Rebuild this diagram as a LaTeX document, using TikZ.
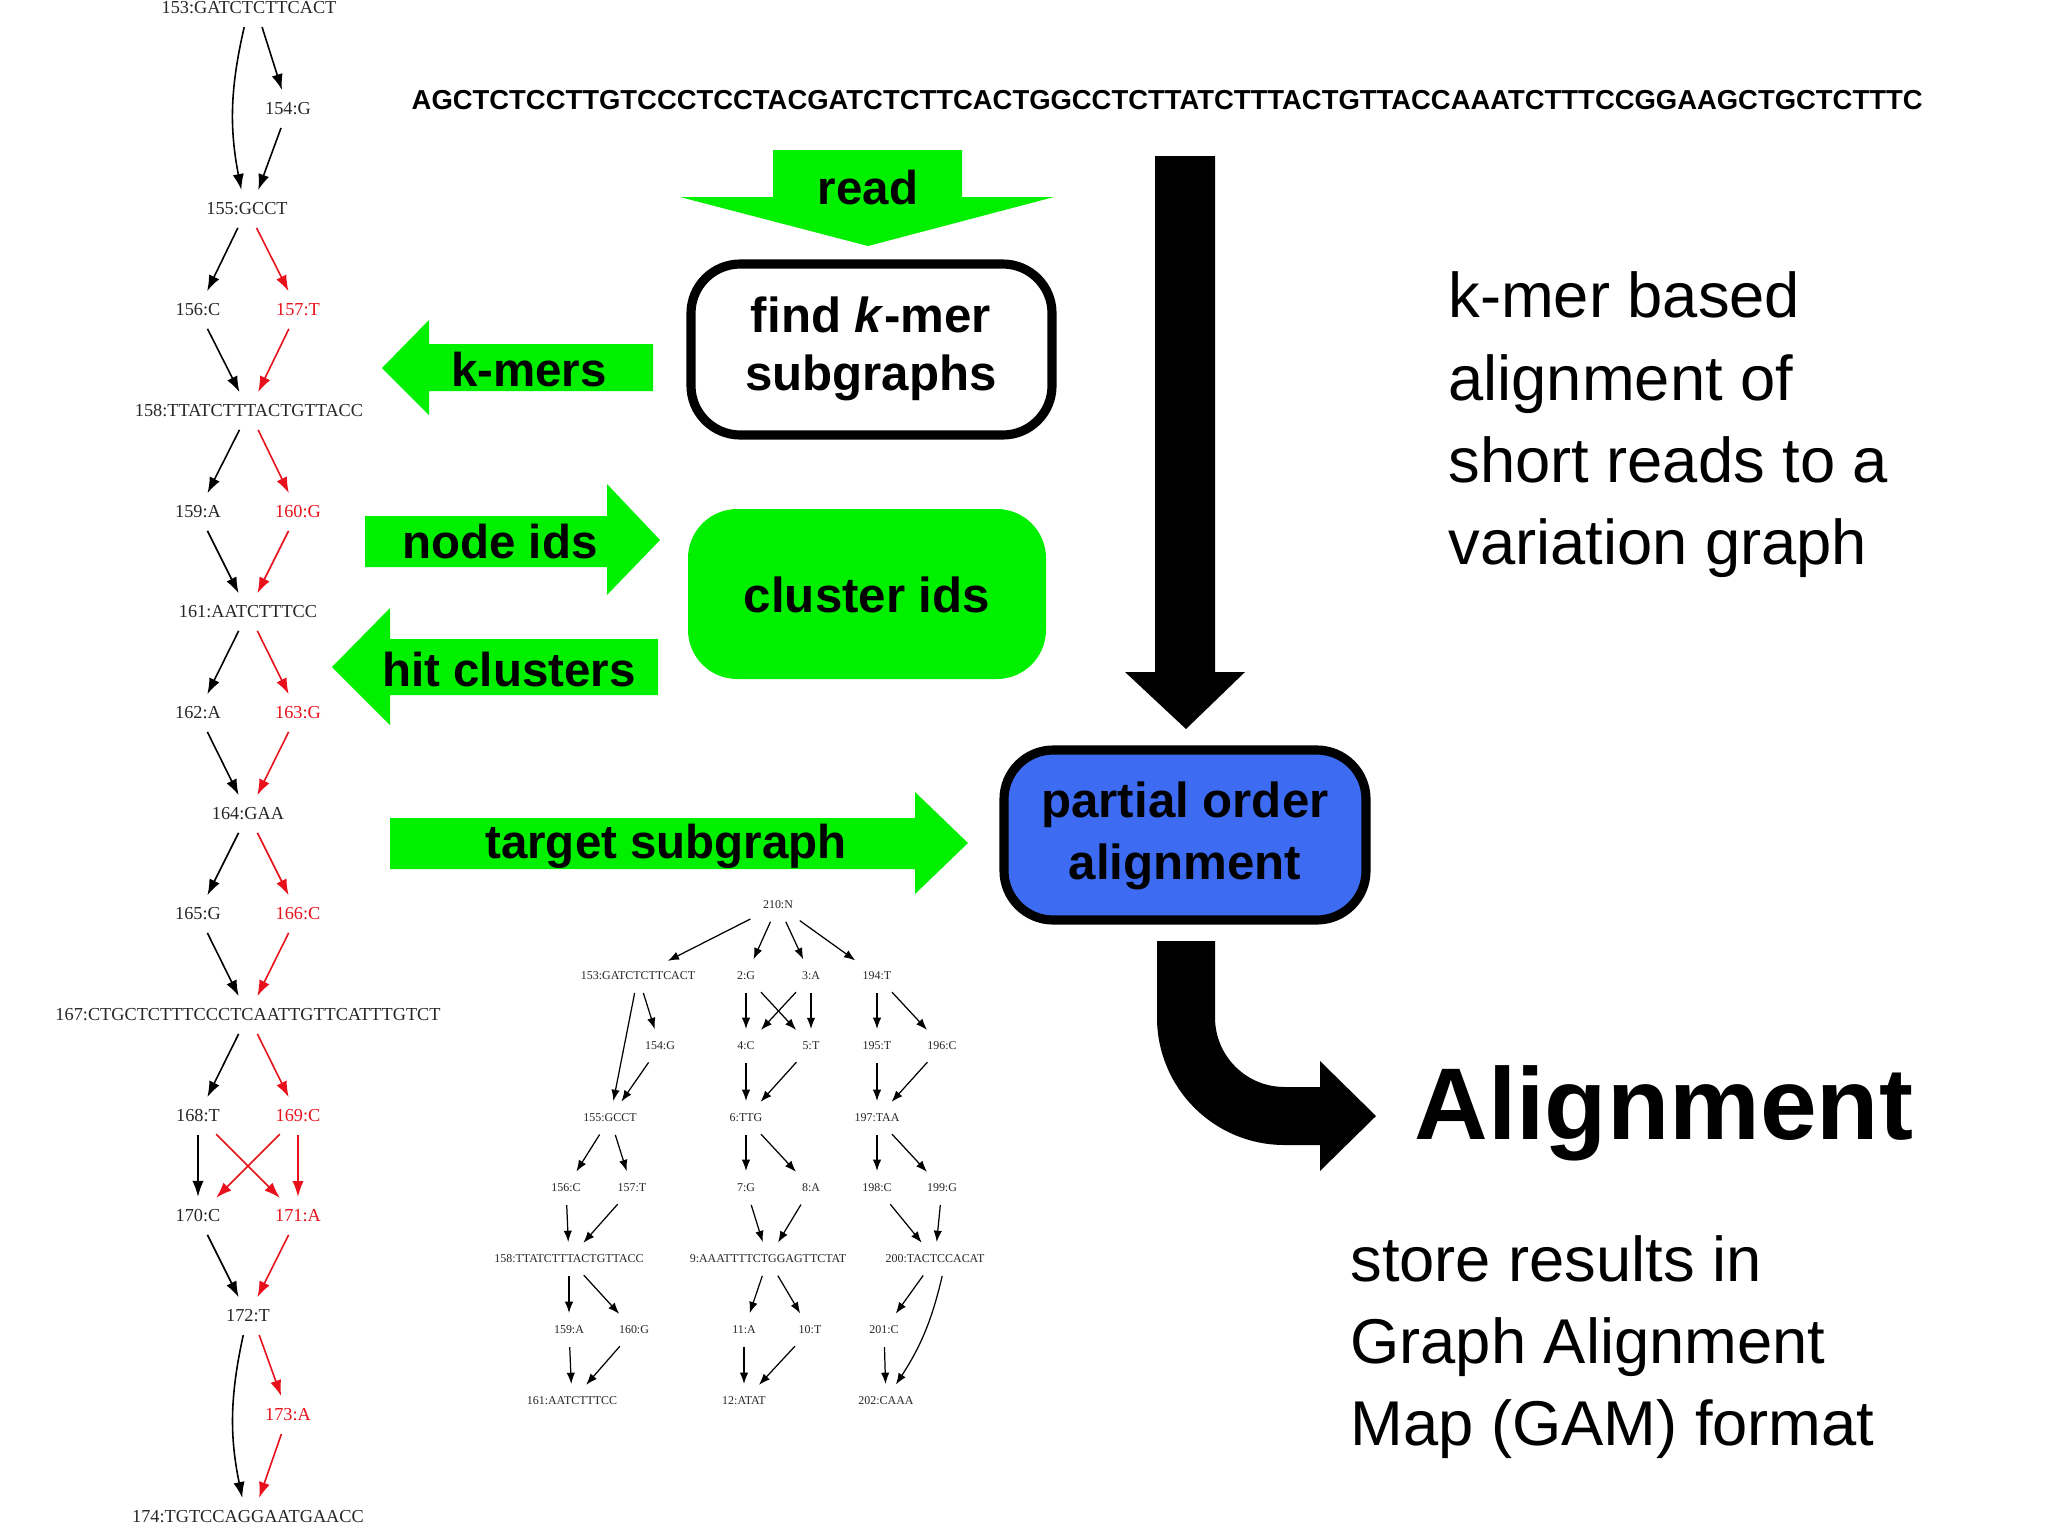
\documentclass[tikz,border=0pt]{standalone}
\usepackage{fontspec}
\setmainfont{Liberation Sans}
\newfontfamily\gfont{Liberation Serif}
\usetikzlibrary{arrows.meta,calc}
\definecolor{brgreen}{HTML}{00F000}
\definecolor{pblue}{HTML}{3D6BF2}
\definecolor{gred}{HTML}{E8101A}
\begin{document}
\begin{tikzpicture}[x=0.01cm,y=-0.01cm,
  L/.style={font=\gfont\fontsize{5.2}{6}\selectfont,inner sep=2.5pt,text=black!85},
  LR/.style={L,text=gred},
  B/.style={font=\gfont\fontsize{3.4}{4}\selectfont,inner sep=2.5pt,text=black!85},
  e/.style={-{Latex[length=4.5pt,width=3.2pt]},line width=0.45pt,shorten <=1pt,shorten >=1pt},
  er/.style={e,draw=gred},
  eb/.style={-{Latex[length=3.2pt,width=2.4pt]},line width=0.35pt,shorten <=1pt,shorten >=1pt},
  garrow/.style={fill=brgreen},
  glab/.style={font=\bfseries\fontsize{13.5}{15}\selectfont},
  big/.style={font=\fontsize{18}{23.4}\selectfont,align=left,anchor=west}]
\useasboundingbox[fill=white] (0,0) rectangle (2048,1536);

% ---------- left graph ----------
\node[L] (a153) at (249,8) {153:GATCTCTTCACT};
\node[L] (a154) at (288,109) {154:G};
\node[L] (a155) at (247,209) {155:GCCT};
\node[L] (a156) at (198,310) {156:C};
\node[LR] (a157) at (298,310) {157:T};
\node[L] (a158) at (249,411) {158:TTATCTTTACTGTTACC};
\node[L] (a159) at (198,512) {159:A};
\node[LR] (a160) at (298,512) {160:G};
\node[L] (a161) at (248,612) {161:AATCTTTCC};
\node[L] (a162) at (198,713) {162:A};
\node[LR] (a163) at (298,713) {163:G};
\node[L] (a164) at (248,814) {164:GAA};
\node[L] (a165) at (198,914) {165:G};
\node[LR] (a166) at (298,914) {166:C};
\node[L] (a167) at (248,1015) {167:CTGCTCTTTCCCTCAATTGTTCATTTGTCT};
\node[L] (a168) at (198,1116) {168:T};
\node[LR] (a169) at (298,1116) {169:C};
\node[L] (a170) at (198,1216) {170:C};
\node[LR] (a171) at (298,1216) {171:A};
\node[L] (a172) at (248,1316) {172:T};
\node[LR] (a173) at (288,1415) {173:A};
\node[L] (a174) at (248,1517) {174:TGTCCAGGAATGAACC};

\draw[e] ($(a153.south)+(12,0)$) -- (a154);
\draw[e] ($(a153.south)+(-4,0)$) to[bend right=12] ($(a155.north)+(-5,0)$);
\draw[e] (a154) -- ($(a155.north)+(10,0)$);
\draw[e] (a155) -- (a156);
\draw[er] (a155) -- (a157);
\draw[e] (a156) -- (a158);
\draw[er] (a157) -- (a158);
\draw[e] (a158) -- (a159);
\draw[er] (a158) -- (a160);
\draw[e] (a159) -- (a161);
\draw[er] (a160) -- (a161);
\draw[e] (a161) -- (a162);
\draw[er] (a161) -- (a163);
\draw[e] (a162) -- (a164);
\draw[er] (a163) -- (a164);
\draw[e] (a164) -- (a165);
\draw[er] (a164) -- (a166);
\draw[e] (a165) -- (a167);
\draw[er] (a166) -- (a167);
\draw[e] (a167) -- (a168);
\draw[er] (a167) -- (a169);
\draw[e] (a168) -- (a170);
\draw[er] (a168) -- (a171);
\draw[er] (a169) -- (a170);
\draw[er] (a169) -- (a171);
\draw[e] (a170) -- (a172);
\draw[er] (a171) -- (a172);
\draw[er] ($(a172.south)+(10,0)$) -- (a173);
\draw[er] (a173) -- ($(a174.north)+(10,0)$);
\draw[e] ($(a172.south)+(-4,0)$) to[bend right=12] ($(a174.north)+(-5,0)$);

% ---------- sequence ----------
\node[font=\bfseries\fontsize{7.8}{9}\selectfont,anchor=west,inner sep=0] (seq) at (411,100) {AGCTCTCCTTGTCCCTCCTACGATCTCTTCACTGGCCTCTTATCTTTACTGTTACCAAATCTTTCCGGAAGCTGCTCTTTC};

% ---------- green arrows ----------
\fill[garrow] (773,150) -- (962,150) -- (962,197) -- (1054,197) -- (868,246) -- (680,197) -- (773,197) -- cycle;
\node[glab] (read) at (868,188) {read};
\fill[garrow] (653,344) -- (429,344) -- (429,320) -- (382,368) -- (429,415) -- (429,391) -- (653,391) -- cycle;
\node[glab] (kmers) at (529,370) {k-mers};
\fill[garrow] (365,516) -- (607,516) -- (607,484) -- (660,540) -- (607,595) -- (607,567) -- (365,567) -- cycle;
\node[glab] (nodeids) at (500,542) {node ids};
\fill[garrow] (658,639) -- (390,639) -- (390,608) -- (332,667) -- (390,725) -- (390,695) -- (658,695) -- cycle;
\node[glab] (hits) at (509,670) {hit clusters};
\fill[garrow] (390,818) -- (915,818) -- (915,792) -- (968,843) -- (915,894) -- (915,869) -- (390,869) -- cycle;
\node[glab] (target) at (666,846) {target subgraph};

% ---------- boxes ----------
\draw[line width=2.6pt,rounded corners=14pt,fill=white] (691,264) rectangle (1052,435);
\node[glab,align=center,font=\bfseries\fontsize{14}{16.5}\selectfont] (find) at (871,349) {find \textit{k}-mer\\subgraphs};
\fill[brgreen,rounded corners=14pt] (688,509) rectangle (1046,679);
\node[glab,font=\bfseries\fontsize{14}{16.5}\selectfont] (cluster) at (867,595) {cluster ids};
\draw[line width=2.6pt,rounded corners=14pt,fill=pblue] (1004,750) rectangle (1366,920);
\node[glab,align=center,font=\bfseries\fontsize{14}{17.5}\selectfont] (poa) at (1185,836) {partial order\\alignment};

% ---------- black arrows ----------
\fill[black] (1155,156) -- (1215,156) -- (1215,672) -- (1245,672) -- (1186,729) -- (1125,672) -- (1155,672) -- cycle;
\draw[line width=16.5pt,rounded corners=28pt] (1186,941) -- (1186,1116) -- (1325,1116);
\fill[black] (1320,1061) -- (1376,1116) -- (1320,1171) -- cycle;

% ---------- right texts ----------
\node[big] (kmerbased) at (1436,425) {k-mer based\\alignment of\\short reads to a\\variation graph};
\node[font=\bfseries\fontsize{29}{34}\selectfont,anchor=west] (align) at (1402,1113) {Alignment};
\node[big] (store) at (1338,1347) {store results in\\Graph Alignment\\Map (GAM) format};

% ---------- bottom graph ----------
\node[B] (b210) at (778,905) {210:N};
\node[B] (b153) at (638,976) {153:GATCTCTTCACT};
\node[B] (b2) at (746,976) {2:G};
\node[B] (b3) at (811,976) {3:A};
\node[B] (b194) at (877,976) {194:T};
\node[B] (b154) at (660,1046) {154:G};
\node[B] (b4) at (746,1046) {4:C};
\node[B] (b5) at (811,1046) {5:T};
\node[B] (b195) at (877,1046) {195:T};
\node[B] (b196) at (942,1046) {196:C};
\node[B] (b155) at (610,1118) {155:GCCT};
\node[B] (b6) at (746,1118) {6:TTG};
\node[B] (b197) at (877,1118) {197:TAA};
\node[B] (b156) at (566,1188) {156:C};
\node[B] (b157) at (632,1188) {157:T};
\node[B] (b7) at (746,1188) {7:G};
\node[B] (b8) at (811,1188) {8:A};
\node[B] (b198) at (877,1188) {198:C};
\node[B] (b199) at (942,1188) {199:G};
\node[B] (b158) at (569,1259) {158:TTATCTTTACTGTTACC};
\node[B] (b9) at (768,1259) {9:AAATTTTCTGGAGTTCTAT};
\node[B] (b200) at (935,1259) {200:TACTCCACAT};
\node[B] (b159) at (569,1330) {159:A};
\node[B] (b160) at (634,1330) {160:G};
\node[B] (b11) at (744,1330) {11:A};
\node[B] (b10) at (810,1330) {10:T};
\node[B] (b201) at (884,1330) {201:C};
\node[B] (b161) at (572,1401) {161:AATCTTTCC};
\node[B] (b12) at (744,1401) {12:ATAT};
\node[B] (b202) at (886,1401) {202:CAAA};

\foreach \s/\t in {210/153,210/2,210/3,210/194,153/154,153/155,154/155,2/4,2/5,3/4,3/5,194/195,194/196,
  155/156,155/157,4/6,5/6,195/197,196/197,6/7,6/8,197/198,197/199,156/158,157/158,7/9,8/9,198/200,199/200,
  158/159,158/160,9/11,9/10,200/201,159/161,160/161,11/12,10/12,201/202}
  \draw[eb] (b\s) -- (b\t);
\draw[eb] ($(b200.south)+(8,0)$) to[bend left=10] ($(b202.north)+(8,0)$);
\end{tikzpicture}
\end{document}
